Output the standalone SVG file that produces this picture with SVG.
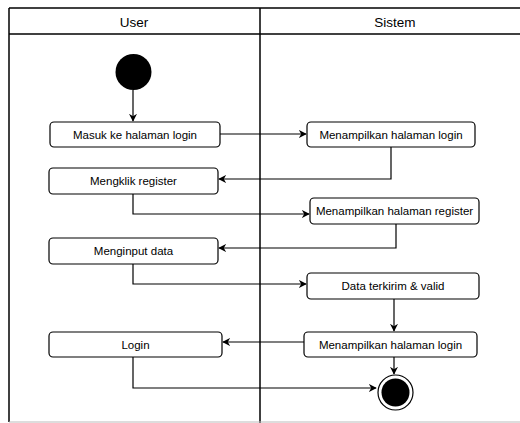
<svg xmlns="http://www.w3.org/2000/svg" width="520" height="423" viewBox="0 0 520 423">
<defs>
<style>
.lane{fill:none;stroke:#000;stroke-width:1.5}
.box{fill:#fff;stroke:#000;stroke-width:1.2}
.t{font-family:"Liberation Sans",Arial,sans-serif;font-size:11.5px;fill:#000;text-anchor:middle;dominant-baseline:central}
.h{font-family:"Liberation Sans",Arial,sans-serif;font-size:13.5px;fill:#000;text-anchor:middle;dominant-baseline:central}
.c{fill:none;stroke:#000;stroke-width:1.2;marker-end:url(#ah)}
</style>
<marker id="ah" viewBox="0 0 10 10" refX="9" refY="5" markerWidth="8" markerHeight="8" markerUnits="userSpaceOnUse" orient="auto">
<path d="M0,0 L10,5 L0,10 L3,5 Z" fill="#000"/>
</marker>
</defs>
<rect width="520" height="423" fill="#fff"/>
<g id="lanes">
<line class="lane" x1="9" y1="8" x2="520" y2="8"/>
<line class="lane" x1="9" y1="34" x2="520" y2="34" stroke="#444"/>
<line class="lane" x1="9" y1="8" x2="9" y2="422"/>
<line class="lane" x1="260" y1="8" x2="260" y2="423"/>
<line x1="9" y1="422" x2="520" y2="422" stroke="#bbb" stroke-width="1"/>
<text class="h" x="134" y="22">User</text>
<text class="h" x="395" y="22">Sistem</text>
</g>
<g id="connectors">
<path class="c" d="M133,90 V121"/>
<path class="c" d="M220,134 H306"/>
<path class="c" d="M391,147 V179 H219"/>
<path class="c" d="M133,194 V214 H309"/>
<path class="c" d="M396,224 V248 H219"/>
<path class="c" d="M133,264 V284 H306"/>
<path class="c" d="M394,299 V331"/>
<path class="c" d="M304,342 H223"/>
<path class="c" d="M394,357 V374"/>
<path class="c" d="M133,357 V388 H376"/>
</g>
<g id="start"><circle cx="133.5" cy="72" r="18" fill="#000"/></g>
<g id="n1"><rect class="box" x="50" y="122" width="170" height="25" rx="4"/><text class="t" x="135" y="134.5">Masuk ke halaman login</text></g>
<g id="n2"><rect class="box" x="307" y="122" width="168" height="25" rx="4"/><text class="t" x="391" y="134.5">Menampilkan halaman login</text></g>
<g id="n3"><rect class="box" x="49" y="168" width="169" height="26" rx="4"/><text class="t" x="133.5" y="181">Mengklik register</text></g>
<g id="n4"><rect class="box" x="310" y="198" width="169" height="26" rx="4"/><text class="t" x="394.5" y="211">Menampilkan halaman register</text></g>
<g id="n5"><rect class="box" x="49" y="238" width="169" height="26" rx="4"/><text class="t" x="133.5" y="251">Menginput data</text></g>
<g id="n6"><rect class="box" x="307" y="273" width="172" height="26" rx="4"/><text class="t" x="393" y="286">Data terkirim &amp; valid</text></g>
<g id="n7"><rect class="box" x="304" y="332" width="173" height="25" rx="4"/><text class="t" x="390.5" y="344.5">Menampilkan halaman login</text></g>
<g id="n8"><rect class="box" x="49" y="332" width="173" height="25" rx="4"/><text class="t" x="135.5" y="344.5">Login</text></g>
<g id="end"><circle cx="395.5" cy="392.5" r="17.5" fill="#fff" stroke="#000" stroke-width="1.2"/><circle cx="395.5" cy="392.5" r="14" fill="#000"/></g>
</svg>
